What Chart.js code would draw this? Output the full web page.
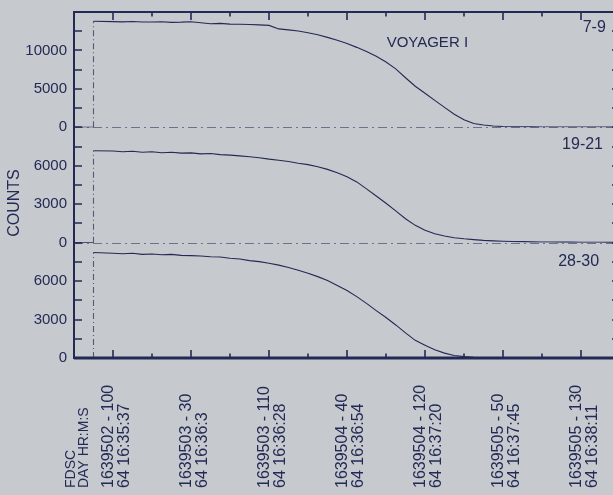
<!DOCTYPE html>
<html>
<head>
<meta charset="utf-8">
<script src="https://cdn.jsdelivr.net/npm/chart.js@4.4.1/dist/chart.umd.min.js"></script>
<style>
  html, body { margin: 0; padding: 0; background: #c6c9cd; overflow: hidden; }
  #wrap { width: 613px; height: 495px; overflow: hidden; }
  canvas { display: block; }
</style>
</head>
<body>
<div id="wrap"><canvas id="chart" width="640" height="495"></canvas></div>
<script>
// sample positions, in units of the labelled tick spacing (0 = first label)
const xs = [-0.5, -0.25, -0.25, 0, 0.125, 0.25, 0.375, 0.5, 0.625, 0.75, 0.875,
  1, 1.125, 1.25, 1.375, 1.5, 1.625, 1.75, 1.875,
  2, 2.125, 2.25, 2.375, 2.5, 2.625, 2.75, 2.875,
  3, 3.125, 3.25, 3.375, 3.5, 3.625, 3.75, 3.875,
  4, 4.125, 4.25, 4.375, 4.5, 4.625, 4.75, 4.875,
  5, 5.125, 5.25, 5.375, 5.5, 5.625, 5.75, 5.875,
  6, 6.125, 6.25, 6.375, 6.5];

// channel 7-9
const counts79 = [0, 0, 13800, 13750, 13720, 13760, 13700, 13690, 13730, 13650, 13680,
  13740, 13600, 13480, 13520, 13420, 13400, 13380, 13330,
  13260, 12800, 12680, 12520, 12300, 12050, 11700, 11330,
  10900, 10400, 9850, 9250, 8500, 7600, 6450, 5350,
  4430, 3500, 2590, 1700, 1000, 500, 300, 180,
  110, 80, 60, 55, 50, 45, 45, 40,
  40, 40, 35, 35, 35];

// channel 19-21
const counts1921 = [0, 0, 7170, 7150, 7090, 7130, 7060, 7100, 7020, 7060, 6990,
  7010, 6930, 6960, 6870, 6830, 6770, 6700, 6630,
  6520, 6430, 6330, 6200, 6090, 5920, 5720, 5450,
  5150, 4740, 4200, 3640, 3080, 2480, 1870, 1350,
  970, 690, 520, 380, 300, 240, 180, 140,
  110, 90, 80, 60, 55, 50, 45, 40,
  35, 30, 30, 25, 25];

// channel 28-30
const counts2830 = [0, 0, 8230, 8180, 8140, 8170, 8090, 8120, 8060, 8090, 8010,
  7990, 7960, 7900, 7880, 7780, 7720, 7600, 7520,
  7400, 7250, 7060, 6850, 6620, 6350, 6040, 5660,
  5260, 4790, 4260, 3700, 3160, 2580, 1960, 1380,
  1000, 640, 380, 200, 110, 60, 30, 15,
  10, 5, 0, 0, 0, 0, 0, 0,
  0, 0, 0, 0, 0];

const ticks79 = [0, 2500, 5000, 7500, 10000, 12500, 15000];
const ticksLow = [0, 1500, 3000, 4500, 6000, 7500, 9000];
const majorTicks = [0, 1, 2, 3, 4, 5, 6];
const minorTicks = [0.5, 1.5, 2.5, 3.5, 4.5, 5.5];
const tickLabels = [
  ['1639502 - 100', '64 16:35:37'],
  ['1639503 - 30', '64 16:36:3'],
  ['1639503 - 110', '64 16:36:28'],
  ['1639504 - 40', '64 16:36:54'],
  ['1639504 - 120', '64 16:37:20'],
  ['1639505 - 50', '64 16:37:45'],
  ['1639505 - 130', '64 16:38:11']
];
const headerLines = ['FDSC', 'DAY HR:M:S'];

const ink = '#232a55';
const paper = '#c6c9cd';
const FONT = '"Liberation Sans", Arial, sans-serif';

function pts(values) {
  return xs.map((x, i) => ({ x: x, y: values[i] }));
}

function panelSet(values, axis) {
  return {
    data: pts(values),
    yAxisID: axis,
    borderColor: ink,
    borderWidth: 1.1,
    pointRadius: 0,
    tension: 0,
    segment: {
      borderDash: ctx => ctx.p0DataIndex === 1 ? [6, 3, 1, 3] : undefined,
      borderColor: ctx => ctx.p0DataIndex === 1 ? 'rgba(35,42,85,0.7)' : undefined
    }
  };
}

function yAxis(tickValues, labelEvery) {
  const max = tickValues[tickValues.length - 1];
  return {
    type: 'linear',
    position: 'left',
    stack: 'counts',
    stackWeight: 1,
    min: 0,
    max: max,
    afterBuildTicks: s => { s.ticks = tickValues.map(v => ({ value: v })); },
    ticks: {
      autoSkip: false,
      padding: 7,
      color: ink,
      font: { family: FONT, size: 15 },
      callback: v => (v % labelEvery === 0 && v < max) ? String(v) : ''
    },
    grid: { display: false, drawTicks: false },
    border: { display: false },
    afterFit: s => {
      s.width = 74;
      s.paddingTop = 0;
      s.paddingBottom = 0;
    }
  };
}

// frame, inner ticks, baselines and the texts
const paperPlugin = {
  id: 'paper',
  beforeDraw(chart) {
    const c = chart.ctx;
    c.save();
    c.fillStyle = paper;
    c.fillRect(0, 0, chart.width, chart.height);
    c.restore();
  },
  beforeDatasetsDraw(chart) {
    const c = chart.ctx;
    const a = chart.chartArea;
    c.save();
    c.strokeStyle = 'rgba(35,42,85,0.55)';
    c.lineWidth = 1;
    c.setLineDash([9, 4, 2, 4]);
    ['yA', 'yB'].forEach(id => {
      const y = Math.round(chart.scales[id].getPixelForValue(0)) + 0.5;
      c.beginPath();
      c.moveTo(a.left, y);
      c.lineTo(a.right, y);
      c.stroke();
    });
    c.restore();
  },
  afterDatasetsDraw(chart) {
    const c = chart.ctx;
    const a = chart.chartArea;
    const sx = chart.scales.x;
    c.save();
    c.strokeStyle = ink;
    c.fillStyle = ink;

    // frame, bottom edge a little heavier
    c.lineWidth = 2;
    c.strokeRect(a.left, a.top, a.right - a.left, a.bottom - a.top);
    c.lineWidth = 3;
    c.beginPath();
    c.moveTo(a.left, a.bottom);
    c.lineTo(a.right, a.bottom);
    c.stroke();

    // y ticks, inside on both sides
    c.lineWidth = 1.6;
    ['yA', 'yB', 'yC'].forEach(id => {
      const s = chart.scales[id];
      s.ticks.forEach(t => {
        if (t.value >= s.max) return;
        const y = Math.round(s.getPixelForValue(t.value));
        c.beginPath();
        c.moveTo(a.left, y);
        c.lineTo(a.left + 8, y);
        c.moveTo(a.right, y);
        c.lineTo(a.right - 8, y);
        c.stroke();
      });
    });

    // x ticks, inside at top and bottom
    const xTick = (v, len) => {
      const x = Math.round(sx.getPixelForValue(v));
      c.beginPath();
      c.moveTo(x, a.bottom);
      c.lineTo(x, a.bottom - len);
      c.moveTo(x, a.top);
      c.lineTo(x, a.top + len);
      c.stroke();
    };
    majorTicks.forEach(v => xTick(v, 8));
    minorTicks.forEach(v => xTick(v, 4.5));

    // rotated x labels, starting from the bottom
    c.textAlign = 'left';
    c.textBaseline = 'middle';
    const vText = (txt, x, y) => {
      c.save();
      c.translate(x, y);
      c.rotate(-Math.PI / 2);
      c.fillText(txt, 0, 0);
      c.restore();
    };
    c.font = '16px ' + FONT;
    majorTicks.forEach((v, i) => {
      const x = sx.getPixelForValue(v);
      vText(tickLabels[i][0], x - 4, 488);
      vText(tickLabels[i][1], x + 12, 488);
    });
    const x0 = sx.getPixelForValue(majorTicks[0]);
    c.font = '14px ' + FONT;
    vText(headerLines[0], x0 - 42, 488);
    vText(headerLines[1], x0 - 29, 488);

    // y title
    c.font = '16px ' + FONT;
    c.textAlign = 'center';
    vText('COUNTS', 15, 203);

    // panel captions
    c.font = '15px ' + FONT;
    c.fillText('VOYAGER I', sx.getPixelForValue(4.03), chart.scales.yA.getPixelForValue(11030));
    c.font = '16px ' + FONT;
    c.fillText('7-9', sx.getPixelForValue(6.17), chart.scales.yA.getPixelForValue(12980));
    c.fillText('19-21', sx.getPixelForValue(6.02), chart.scales.yB.getPixelForValue(7640));
    c.fillText('28-30', sx.getPixelForValue(5.97), chart.scales.yC.getPixelForValue(7550));
    c.restore();
  }
};

new Chart(document.getElementById('chart'), {
  type: 'line',
  data: {
    datasets: [
      panelSet(counts79, 'yA'),
      panelSet(counts1921, 'yB'),
      panelSet(counts2830, 'yC')
    ]
  },
  options: {
    responsive: false,
    animation: false,
    devicePixelRatio: 1,
    layout: { padding: { top: 12, right: 20, bottom: 137, left: 0 } },
    plugins: { legend: { display: false }, tooltip: { enabled: false } },
    scales: {
      x: {
        type: 'linear',
        min: -0.5,
        max: 6.5,
        ticks: { display: false },
        grid: { display: false, drawTicks: false },
        border: { display: false }
      },
      // stacked panels: the last one listed ends up on top
      yC: yAxis(ticksLow, 3000),
      yB: yAxis(ticksLow, 3000),
      yA: yAxis(ticks79, 5000)
    }
  },
  plugins: [paperPlugin]
});
</script>
</body>
</html>
